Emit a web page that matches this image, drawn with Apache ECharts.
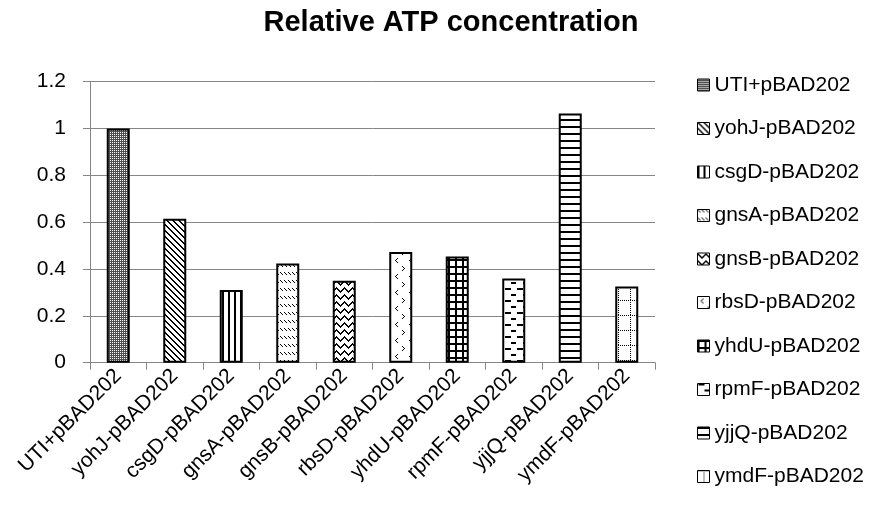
<!DOCTYPE html>
<html>
<head>
<meta charset="utf-8">
<script src="https://cdn.jsdelivr.net/npm/echarts@6/dist/echarts.min.js"></script>
<style>html,body{margin:0;padding:0;background:#fff}#c{width:874px;height:508px}</style>
</head>
<body>
<div id="c"></div>
<script>
const categories = ['UTI+pBAD202','yohJ-pBAD202','csgD-pBAD202','gnsA-pBAD202','gnsB-pBAD202','rbsD-pBAD202','yhdU-pBAD202','rpmF-pBAD202','yjjQ-pBAD202','ymdF-pBAD202'];
const values = [1.0, 0.615, 0.31, 0.424, 0.35, 0.473, 0.453, 0.36, 1.064, 0.325];
const yTicks = {min: 0, max: 1.2, interval: 0.2};
const titleText = 'Relative ATP concentration';

function tile(w, h, fn) {
  const c = document.createElement('canvas');
  c.width = w; c.height = h;
  const ctx = c.getContext('2d');
  ctx.fillStyle = '#fff'; ctx.fillRect(0, 0, w, h);
  for (let y = 0; y < h; y++) for (let x = 0; x < w; x++) {
    const v = fn(x, y);
    if (v) { ctx.fillStyle = v === true ? '#000' : v; ctx.fillRect(x, y, 1, 1); }
  }
  return {image: c, repeat: 'repeat'};
}
const patterns = [
  tile(2, 2, (x, y) => (x === 0 && y === 0) ? false : '#505050'),
  tile(6, 6, (x, y) => { const d = ((x - y) % 6 + 6) % 6; return d === 0 || d === 1; }),
  tile(6, 1, (x, y) => x < 2),
  tile(8, 8, (x, y) => { if (y < 3) { return ((x - y) % 4 + 4) % 4 === 0; } return false; }),
  tile(8, 7, (x, y) => { const z = Math.abs(((x + 4) % 8) - 4); return y === z || y === z + 1; }),
  tile(14, 16, (x, y) => {
    const l = [[5,2],[4,3],[3,4],[4,5],[5,6]];
    const r = [[10,10],[11,11],[12,12],[11,13],[10,14]];
    return l.some(p => p[0] === x && p[1] === y) || r.some(p => p[0] === x && p[1] === y);
  }),
  tile(7, 7, (x, y) => x < 2 || y < 2),
  tile(12, 12, (x, y) => (y < 2 && x >= 1 && x <= 6) || (y >= 6 && y < 8 && x >= 7 && x <= 12)),
  tile(1, 7, (x, y) => y < 2),
  tile(12, 15, (x, y) => (y === 0 && x % 2 === 0) || (x === 6 && y % 2 === 0))
];

const chart = echarts.init(document.getElementById('c'), null, {renderer: 'canvas'});
const FONT = 'Liberation Sans';
chart.setOption({
  animation: false,
  backgroundColor: '#fff',
  title: {
    text: titleText,
    left: 446, top: 3, textAlign: 'center',
    textStyle: {fontFamily: FONT, fontWeight: 'bold', fontSize: 29, color: '#000'}
  },
  grid: {left: 90, right: 219, top: 81.7, bottom: 145.3},
  legend: {
    orient: 'vertical', left: 692, top: 69.5,
    icon: 'rect', itemWidth: 12, itemHeight: 12, itemGap: 22.5,
    data: categories,
    itemStyle: {borderWidth: 1, borderColor: '#000'},
    textStyle: {fontFamily: FONT, fontSize: 21, color: '#000', lineHeight: 21}
  },
  xAxis: {
    type: 'category', data: categories,
    axisLine: {lineStyle: {color: '#868686', width: 1}},
    axisTick: {show: true, length: 7, lineStyle: {color: '#868686'}},
    axisLabel: {rotate: 45, interval: 0, margin: 10, fontFamily: FONT, fontSize: 21, color: '#000'}
  },
  yAxis: {
    type: 'value', min: yTicks.min, max: yTicks.max, interval: yTicks.interval,
    axisLine: {show: true, lineStyle: {color: '#868686', width: 1}},
    axisTick: {show: true, length: 7, lineStyle: {color: '#868686'}},
    splitLine: {show: true, lineStyle: {color: '#868686', width: 1}},
    axisLabel: {margin: 24, fontFamily: FONT, fontSize: 21, color: '#000',
      formatter: v => String(Math.round(v * 10) / 10)}
  },
  series: categories.map((name, i) => ({
    name: name, type: 'bar', stack: 'all', barWidth: 23,
    data: categories.map((_, j) => j === i ? values[i] : '-'),
    itemStyle: {color: patterns[i], borderColor: '#000', borderWidth: 2}
  }))
});
</script>
</body>
</html>
